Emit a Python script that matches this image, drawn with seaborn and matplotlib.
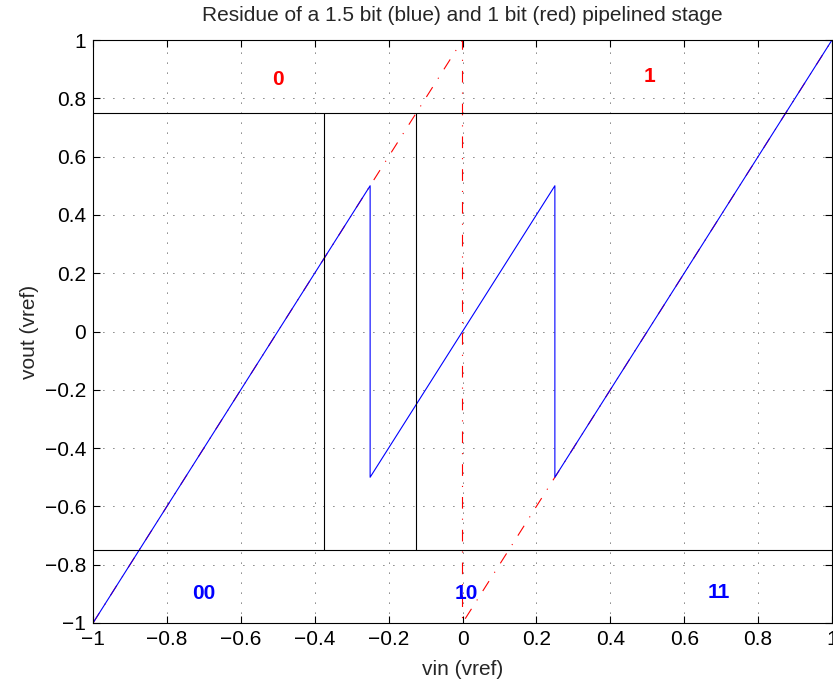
import numpy as np
import pandas as pd
import matplotlib
matplotlib.use("Agg")
import matplotlib.pyplot as plt
import seaborn as sns

# data
blue_x = [-1.0, -0.25, -0.25, 0.25, 0.25, 1.0]
blue_y = [-1.0, 0.5, -0.5, 0.5, -0.5, 1.0]
red_x = [-1.0, 0.0, 0.0, 1.0]
red_y = [-1.0, 1.0, -1.0, 1.0]
thresh_y = [0.75, -0.75]
comp_x = [-0.375, -0.125]
red_labels = ["0", "1"]
red_label_x = [-0.5, 0.505]
red_label_y = [0.865, 0.875]
blue_labels = ["00", "10", "11"]
blue_label_x = [-0.7, 0.01, 0.695]
blue_label_y = [-0.9, -0.9, -0.895]
ticks = [-1, -0.8, -0.6, -0.4, -0.2, 0, 0.2, 0.4, 0.6, 0.8, 1]
tick_labels = ["\u22121", "\u22120.8", "\u22120.6", "\u22120.4", "\u22120.2", "0",
               "0.2", "0.4", "0.6", "0.8", "1"]

sns.set_style("white")
plt.rcParams['font.family'] = ['Liberation Sans', 'DejaVu Sans']

fig = plt.figure(figsize=(8.33, 6.84), dpi=100)
ax = fig.add_axes([93/833, 1-623/684, (832-93)/833, (623-40)/684])

red_df = pd.DataFrame({"x": red_x, "y": red_y})
blue_df = pd.DataFrame({"x": blue_x, "y": blue_y})
sns.lineplot(data=red_df, x="x", y="y", sort=False, estimator=None, ax=ax,
             color=(1, 0, 0), lw=0.8, dashes=False)
ax.lines[-1].set_dashes((10.5, 9, 1, 9))
sns.lineplot(data=blue_df, x="x", y="y", sort=False, estimator=None, ax=ax,
             color=(0, 0, 1), lw=0.8)

for yv in thresh_y:
    ax.axhline(yv, color="black", lw=0.8)
for xv in comp_x:
    ax.plot([xv, xv], [thresh_y[1], thresh_y[0]], color="black", lw=0.8)

for t, x, y in zip(red_labels, red_label_x, red_label_y):
    ax.text(x, y, t, color=(1, 0, 0), fontsize=15, fontweight="bold",
            ha="center", va="center")
for t, x, y in zip(blue_labels, blue_label_x, blue_label_y):
    ax.text(x, y, t, color=(0, 0, 1), fontsize=15, fontweight="bold",
            ha="center", va="center")

ax.set_xlim(-1, 1)
ax.set_ylim(-1, 1)
ax.set_xticks(ticks)
ax.set_yticks(ticks)
ax.set_xticklabels(tick_labels)
ax.set_yticklabels(tick_labels)
ax.tick_params(direction="in", length=5, width=0.8, labelsize=15, colors="black",
               top=True, right=True, bottom=True, left=True, pad=5)
ax.grid(True, linestyle=(0, (1, 11)), color="black", lw=0.6)
for s in ax.spines.values():
    s.set_visible(True)
    s.set_color("black")
    s.set_linewidth(0.8)

ax.set_xlabel("vin (vref)", fontsize=15, labelpad=8)
ax.set_ylabel("vout (vref)", fontsize=15, labelpad=4)
ax.set_title("Residue of a 1.5 bit (blue) and 1 bit (red) pipelined stage",
             fontsize=15, pad=14)

fig.savefig("out.png", dpi=100)
